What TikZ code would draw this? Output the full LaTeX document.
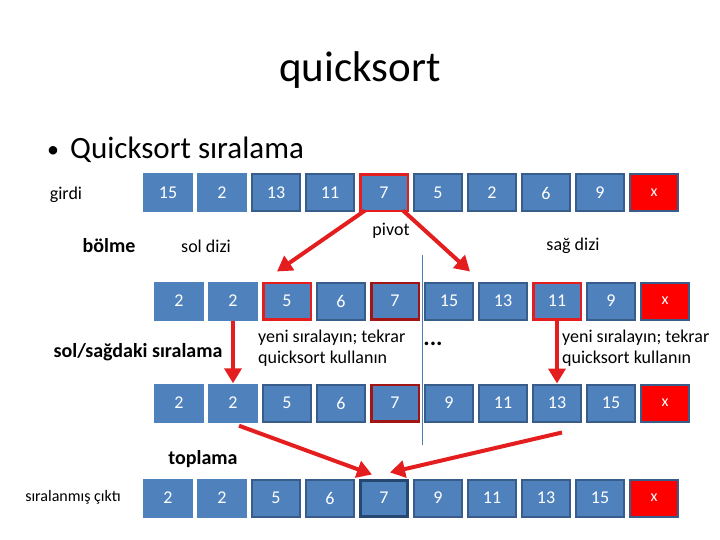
\documentclass[tikz,border=0pt]{standalone}
\usepackage{fontspec}
\setmainfont{Carlito}
\usetikzlibrary{arrows.meta}
\definecolor{boxblue}{HTML}{4F81BD}
\definecolor{boxedge}{HTML}{385D8A}
\definecolor{redbox}{HTML}{FF0000}
\definecolor{redline}{HTML}{E41E1E}
\definecolor{darkred}{HTML}{A31515}
\definecolor{navy}{HTML}{254872}
\definecolor{sepline}{HTML}{4A7EBB}
\begin{document}
\begin{tikzpicture}[x=1pt,y=-1pt,
  cell/.style={fill=boxblue, text=white, minimum width=50pt, minimum height=39pt, inner sep=0pt, font=\fontsize{18}{20}\selectfont},
  cellb/.style={cell, draw=boxedge, line width=2pt, minimum width=48pt, minimum height=37pt},
  cellr/.style={cell, draw=redline, line width=2.5pt, minimum width=47.5pt, minimum height=36.5pt},
  celldr/.style={cell, draw=darkred, line width=2.5pt, minimum width=47.5pt, minimum height=36.5pt},
  cellnv/.style={cell, draw=navy, line width=3pt, minimum width=47pt, minimum height=36pt},
  cellx/.style={cell, fill=redbox, draw=boxedge, line width=2pt, minimum width=48pt, minimum height=37pt, font=\fontsize{16}{18}\selectfont},
  lbl/.style={inner sep=0pt, font=\fontsize{18}{22}\selectfont},
  blbl/.style={inner sep=0pt, font=\fontsize{20}{24}\selectfont\bfseries},
  redarrow/.style={draw=redline, line width=4pt, -{Triangle[length=15pt,width=17pt]}}
]
\useasboundingbox (0,0) rectangle (720,540);

% title and bullet
\node[inner sep=0pt, font=\fontsize{43}{48}\selectfont] (title) at (360,70) {quicksort};
\node[inner sep=0pt, font=\fontsize{24}{28}\selectfont] (bullet) at (53,152) {•};
\node[inner sep=0pt, anchor=west, font=\fontsize{31}{36}\selectfont] (heading) at (70,150) {Quicksort sıralama};

% row 1: input
\foreach \i/\t/\s in {1/15/cell,2/2/cell,3/13/cellb,4/11/cellb,5/7/cellr,6/5/cellb,7/2/cellb,8/6/cellb,9/9/cellb,10/x/cellx}
  \node[\s] (r1c\i) at ({168+54*(\i-1)},193) {\t};
% row 2: partition
\foreach \i/\t/\s in {1/2/cell,2/2/cell,3/5/cellr,4/6/cellb,5/7/celldr,6/15/cellb,7/13/cellb,8/11/cellr,9/9/cellb,10/x/cellx}
  \node[\s] (r2c\i) at ({179+54*(\i-1)},301) {\t};
% row 3: sorted halves
\foreach \i/\t/\s in {1/2/cell,2/2/cell,3/5/cellb,4/6/cellb,5/7/celldr,6/9/cellb,7/11/cellb,8/13/cellb,9/15/cellb,10/x/cellx}
  \node[\s] (r3c\i) at ({179+54*(\i-1)},403) {\t};
% row 4: output
\foreach \i/\t/\s in {1/2/cell,2/2/cell,3/5/cellb,4/6/cellb,5/7/cellnv,6/9/cellb,7/11/cellb,8/13/cellb,9/15/cellb,10/x/cellx}
  \node[\s] (r4c\i) at ({168+54*(\i-1)},498) {\t};

% labels
\node[lbl] (girdi) at (66,195) {girdi};
\node[blbl] (bolme) at (109,246) {bölme};
\node[lbl] (soldizi) at (206,246) {sol dizi};
\node[lbl] (pivot) at (391,231) {pivot};
\node[lbl] (sagdizi) at (573,246) {sağ dizi};
\node[blbl] (solsag) at (138,352) {sol/sağdaki sıralama};
\node[lbl, anchor=west, align=left, font=\fontsize{18}{21}\selectfont] (yeni1) at (258,348) {yeni sıralayın; tekrar\\quicksort kullanın};
\node[lbl, anchor=west, align=left, font=\fontsize{18}{21}\selectfont] (yeni2) at (562,348) {yeni sıralayın; tekrar\\quicksort kullanın};
\node[inner sep=0pt, font=\fontsize{24}{24}\selectfont\bfseries] (dots) at (433,344) {...};
\node[blbl] (toplama) at (203,459) {toplama};
\node[inner sep=0pt, font=\fontsize{16}{18}\selectfont] (cikti) at (73,497) {sıralanmış çıktı};

% separator line
\coordinate (sepTop) at (422,255);
\coordinate (sepBot) at (422,445);
\draw[sepline, line width=0.7pt] (sepTop) -- (sepBot);

% arrows
\draw[redarrow] ([xshift=6pt,yshift=2pt]r1c5.south west) -- ([xshift=15pt,yshift=10pt]r2c3.north west);
\draw[redarrow] ([xshift=-6pt,yshift=2pt]r1c5.south east) -- ([xshift=-8pt,yshift=10pt]r2c7.north west);
\draw[redarrow] (r2c2.south) -- (r3c2.north);
\draw[redarrow] (r2c8.south) -- (r3c8.north);
\draw[redarrow] ([xshift=6pt,yshift=-3pt]r3c2.south) -- ([xshift=13pt,yshift=4pt]r4c5.north west);
\draw[redarrow] ([xshift=5pt,yshift=-10pt]r3c8.south) -- ([xshift=31pt,yshift=6pt]r4c5.north west);
\end{tikzpicture}
\end{document}
